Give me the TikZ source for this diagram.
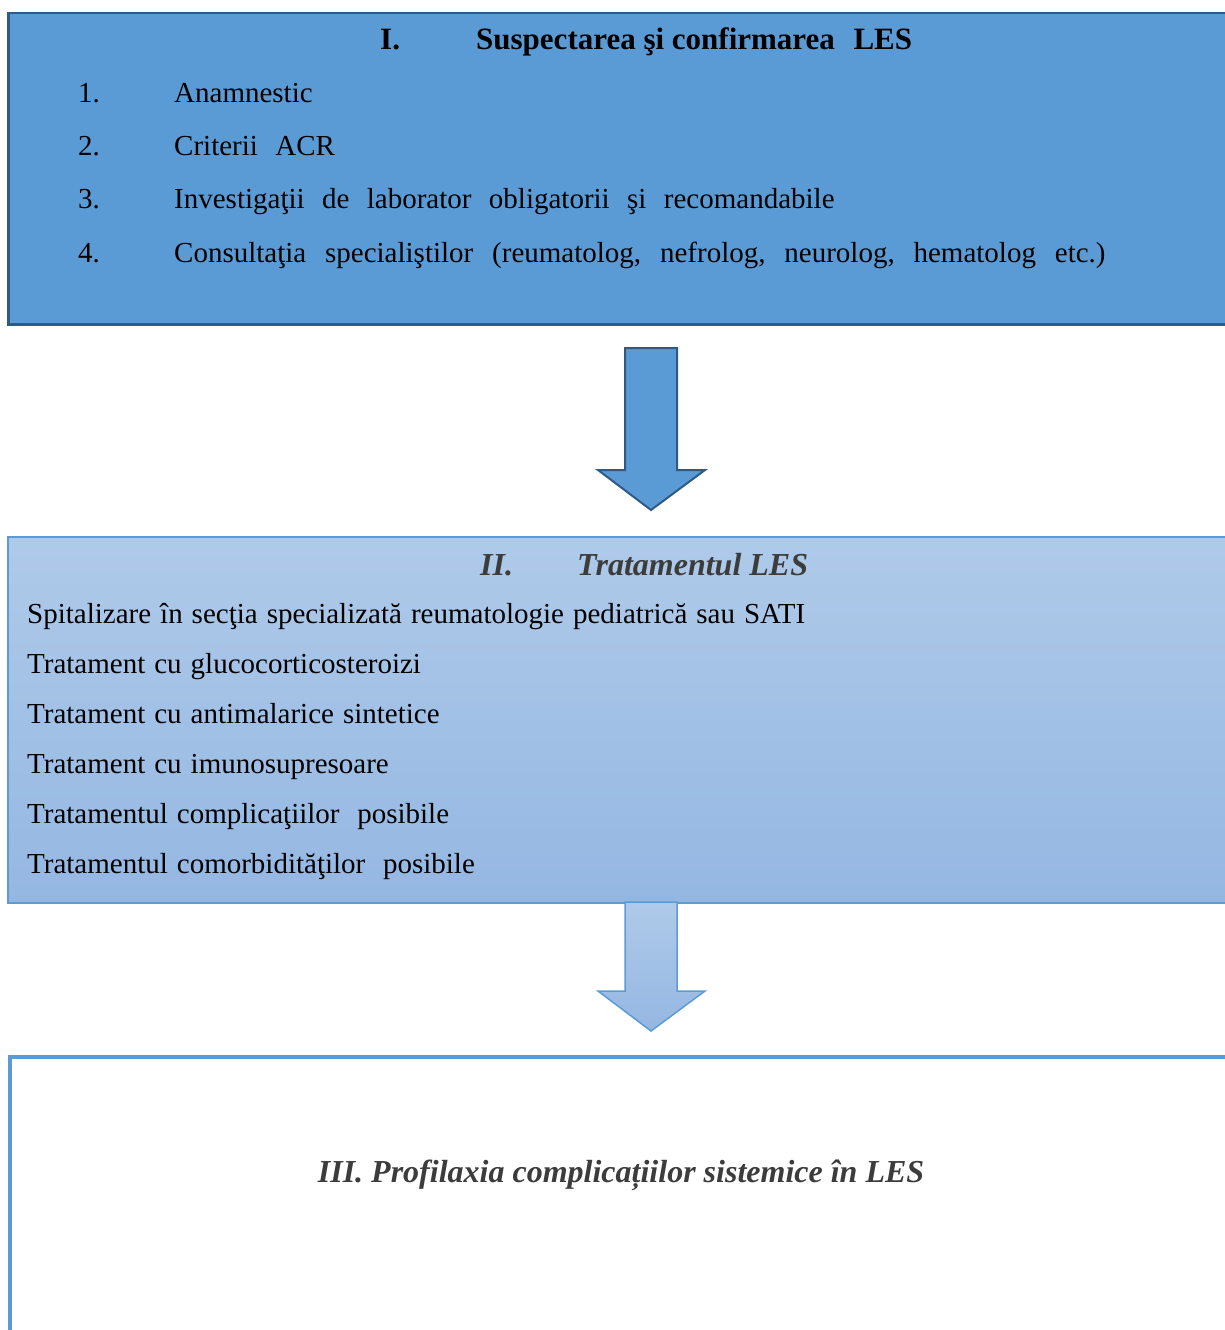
\documentclass[tikz,border=0pt]{standalone}
\usepackage{fontspec}
\setmainfont{Liberation Serif}
\usepackage{xcolor}
\usetikzlibrary{positioning}
\definecolor{boxblue}{HTML}{5B9BD5}
\definecolor{boxedge}{HTML}{2E5A86}
\definecolor{lighttop}{HTML}{AFCAE9}
\definecolor{lightbot}{HTML}{94B7E2}
\definecolor{txtgray}{HTML}{3C3C3C}
\newcommand{\gapnorm}{\spaceskip 0.31em\relax}
\newcommand{\gapwide}{\spaceskip 0.6em\relax}

\begin{document}
\begin{tikzpicture}[x=1pt, y=-1pt,
  stepone/.style={draw=boxedge, line width=2.5pt, fill=boxblue, anchor=north west,
                  minimum width=1240pt, minimum height=311pt, inner sep=0pt},
  steptwo/.style={draw=boxblue, line width=1.5pt, top color=lighttop, bottom color=lightbot,
                  anchor=north west, minimum width=1240pt, minimum height=366pt, inner sep=0pt},
  stepthree/.style={draw=boxblue, line width=4pt, fill=white, anchor=north west,
                    minimum width=1240pt, minimum height=300pt, inner sep=0pt},
  txt/.style={anchor=base west, inner sep=0pt,
              font=\fontsize{29}{34}\selectfont\gapnorm},
  wide/.style={txt, font=\fontsize{29}{34}\selectfont\gapwide},
  hd/.style={txt, font=\fontsize{31}{36}\selectfont\bfseries},
  hdit/.style={txt, font=\fontsize{32}{38}\selectfont\bfseries\itshape, text=txtgray},
  bigarr/.style={draw=boxedge, line width=2pt, fill=boxblue, line join=miter},
  softarr/.style={draw=boxblue, line width=1.5pt, top color=lighttop, bottom color=lightbot, line join=miter},
]
\useasboundingbox (0,0) rectangle (1225,1330);
\clip (0,0) rectangle (1225,1330);

% Box I: suspectare si confirmare
\node[stepone] (b1) at (7,12) {};
\node[hd] (b1n) at (380,50) {I.};
\node[hd] (b1t) at (476,50) {Suspectarea şi confirmarea\hspace{0.35em} LES};
\node[txt] (n1) at (78,102) {1.};
\node[txt] (n2) at (78,155) {2.};
\node[txt] (n3) at (78,208) {3.};
\node[txt] (n4) at (78,262) {4.};
\node[wide] (i1) at (174,102) {Anamnestic};
\node[wide] (i2) at (174,155) {Criterii ACR};
\node[wide] (i3) at (174,208) {Investigaţii de laborator obligatorii şi recomandabile};
\node[wide] (i4) at (174,262) {\spaceskip 0.65em\relax Consultaţia specialiştilor (reumatolog, nefrolog, neurolog, hematolog etc.)};

% arrow I -> II
\draw[bigarr] (625,348) -- (677,348) -- (677,470) -- (705,470) -- (651,510)
  -- (598,470) -- (625,470) -- cycle;

% Box II: tratament
\node[steptwo] (b2) at (7,536) {};
\node[hdit] (b2n) at (480,575) {II.};
\node[hdit] (b2t) at (577,575) {Tratamentul LES};
\node[txt] (t1) at (27,623) {Spitalizare în secţia specializată reumatologie pediatrică sau SATI};
\node[txt] (t2) at (27,673) {Tratament cu glucocorticosteroizi};
\node[txt] (t3) at (27,723) {Tratament cu antimalarice sintetice};
\node[txt] (t4) at (27,773) {Tratament cu imunosupresoare};
\node[txt] (t5) at (27,823) {Tratamentul complicaţiilor\hspace{0.3em} posibile};
\node[txt] (t6) at (27,873) {Tratamentul comorbidităţilor\hspace{0.3em} posibile};

% arrow II -> III
\draw[softarr] (625,902) -- (677,902) -- (677,991) -- (705,991) -- (651,1031)
  -- (598,991) -- (625,991) -- cycle;

% Box III: profilaxie
\node[stepthree] (b3) at (8,1055) {};
\node[hdit, anchor=base] (b3t) at (621,1182) {III. Profilaxia complicațiilor sistemice în LES};
\end{tikzpicture}
\end{document}
